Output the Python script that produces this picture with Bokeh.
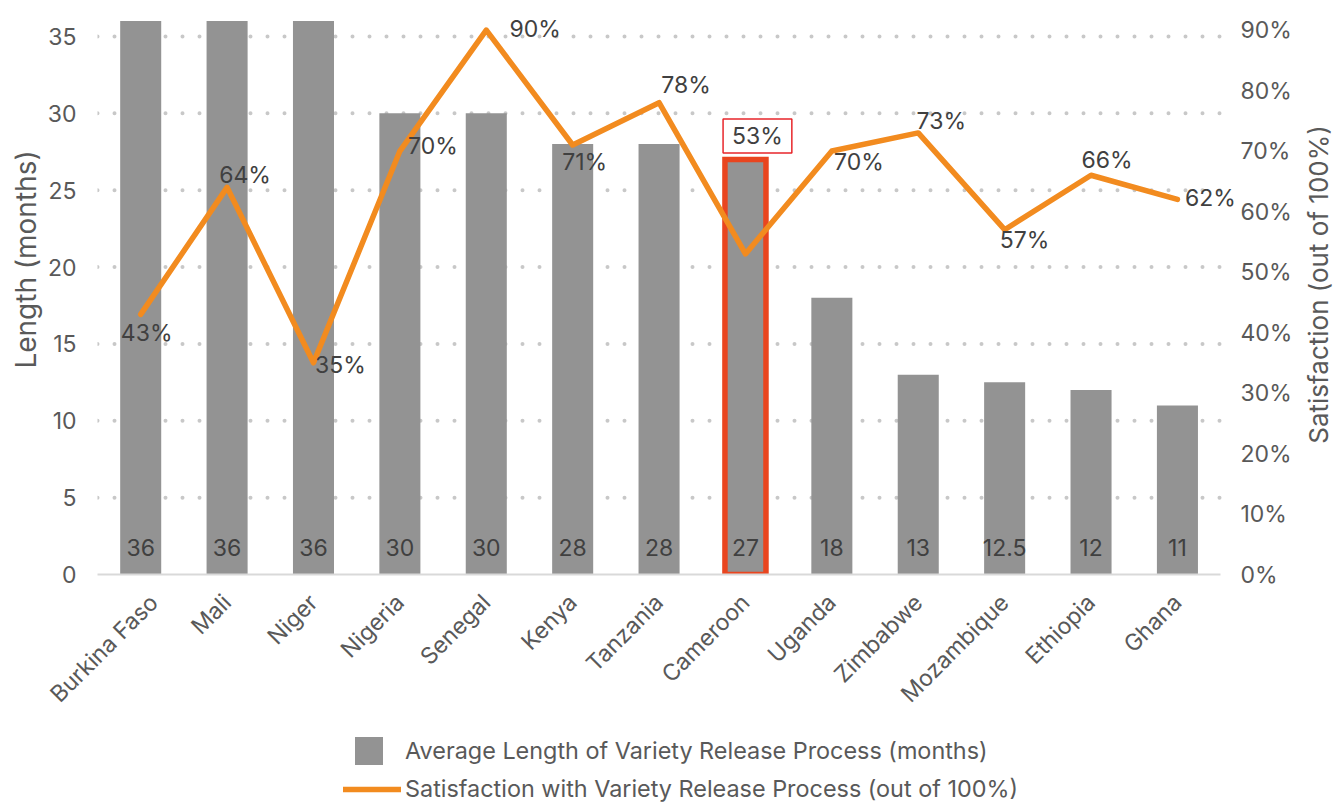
import math
from bokeh.plotting import figure
from bokeh.layouts import gridplot
from bokeh.models import (ColumnDataSource, Range1d, LinearAxis, FixedTicker,
                          NumeralTickFormatter, Legend, LegendItem, Label)
from bokeh.core.properties import value
from bokeh.embed import file_html
from bokeh.resources import INLINE

# ---------------- data ----------------
countries = ["Burkina Faso", "Mali", "Niger", "Nigeria", "Senegal", "Kenya", "Tanzania",
             "Cameroon", "Uganda", "Zimbabwe", "Mozambique", "Ethiopia", "Ghana"]
length_months = [36, 36, 36, 30, 30, 28, 28, 27, 18, 13, 12.5, 12, 11]
satisfaction = [0.43, 0.64, 0.35, 0.70, 0.90, 0.71, 0.78, 0.53, 0.70, 0.73, 0.57, 0.66, 0.62]
left_ticks = [0, 5, 10, 15, 20, 25, 30, 35]
right_ticks = [0.0, 0.1, 0.2, 0.3, 0.4, 0.5, 0.6, 0.7, 0.8, 0.9]
highlight = "Cameroon"

bar_name = "Average Length of Variety Release Process (months)"
line_name = "Satisfaction with Variety Release Process (out of 100%)"
left_title = "Length (months)"
right_title = "Satisfaction (out of 100%)"

# ---------------- styles ----------------
FONT = "Inter"
BAR = "#939393"
ORANGE = "#F28B1F"
HILITE = "#E9451F"
BOXRED = "#E8262B"
AXIS_TXT = "#595959"
LBL_TXT = "#404040"
GRID = "#C8C8C8"
# label offsets in pixels (dx, dy: positive = right / down)
sat_dx = [6, 18, 27, 33, 49, 12, 27, 12, 27, 23, 20, 16, 33]
sat_dy = [19, -12, 2, -5, -1, 17, -18, -118, 11, -12, 10, -15, -1]

# layout geometry (pixels)
W_LT, W_RT = 44, 38
W_MAIN = 1335 - W_LT - W_RT
H_MAIN, H_LEG = 720, 83
B_LEFT, B_RIGHT, B_TOP, B_BOTTOM = 52, 57, 17, 145
RIGHT_GUTTER = 0.23          # extra room (in category widths) right of the last bar

n = len(countries)
xpos = list(range(n))
x_lo, x_hi = -0.5, n - 0.5   # outer edges of the category slots

p = figure(x_range=Range1d(x_lo, x_hi + RIGHT_GUTTER),
           y_range=Range1d(0, 36.23),
           width=W_MAIN, height=H_MAIN,
           output_backend="svg", toolbar_location=None,
           min_border_left=B_LEFT, min_border_right=B_RIGHT,
           min_border_top=B_TOP, min_border_bottom=B_BOTTOM,
           outline_line_color=None, background_fill_color="white")
p.extra_y_ranges = {"pct": Range1d(0, 0.9208)}
p.grid.visible = False

# left axis
yl = p.yaxis[0]
yl.ticker = FixedTicker(ticks=left_ticks)
yl.axis_line_color = None
yl.major_tick_line_color = None
yl.minor_tick_line_color = None
yl.major_tick_out = 0
yl.major_label_standoff = 21
yl.major_label_text_font = FONT
yl.major_label_text_font_size = "23px"
yl.major_label_text_color = AXIS_TXT

# right axis
yr = LinearAxis(y_range_name="pct", ticker=FixedTicker(ticks=right_ticks),
                formatter=NumeralTickFormatter(format="0%"))
yr.axis_line_color = None
yr.major_tick_line_color = None
yr.minor_tick_line_color = None
yr.major_tick_out = 0
yr.major_label_standoff = 0
yr.major_label_text_font = FONT
yr.major_label_text_font_size = "23px"
yr.major_label_text_color = AXIS_TXT
p.add_layout(yr, "right")

# x axis (categories at integer positions)
xa = p.xaxis[0]
xa.ticker = FixedTicker(ticks=xpos)
xa.major_label_overrides = {i: c for i, c in zip(xpos, countries)}
xa.bounds = (x_lo, x_hi)
xa.axis_line_color = "#D9D9D9"
xa.axis_line_width = 2
xa.major_tick_line_color = None
xa.minor_tick_line_color = None
xa.major_tick_out = 0
xa.major_label_orientation = math.pi / 4
xa.major_label_standoff = 24
xa.major_label_text_font = FONT
xa.major_label_text_font_size = "23px"
xa.major_label_text_color = AXIS_TXT

# dotted horizontal gridlines across the category area only
grid_ticks = [t for t in left_ticks if t > 0]
p.segment(x0=x_lo, x1=x_hi, y0="y", y1="y", source=ColumnDataSource(dict(y=grid_ticks)),
          line_color=GRID, line_width=4, line_dash="0 17", line_cap="round")

# ---------------- data sources ----------------
is_hi = [c == highlight for c in countries]
src = ColumnDataSource(dict(
    x=xpos,
    country=countries,
    length=length_months,
    sat=satisfaction,
    zero=[0] * n,
    blabel=[f"{v:g}" for v in length_months],
    edge_alpha=[1.0 if h else 0.0 for h in is_hi],
    edge_width=[5.5 if h else 0.0 for h in is_hi],
))

bars = p.vbar(x="x", top="length", width=0.475, source=src,
              fill_color=BAR, line_color=HILITE, line_alpha="edge_alpha",
              line_width="edge_width", line_join="miter")

p.text(x="x", y="zero", text="blabel", source=src,
       text_align="center", text_baseline="middle", y_offset=-27,
       text_font=value(FONT), text_font_size="23px", text_color=LBL_TXT)

line = p.line(x="x", y="sat", source=src, y_range_name="pct",
              line_color=ORANGE, line_width=5.5, line_join="round", line_cap="round")

idx_n = [i for i, h in enumerate(is_hi) if not h]
idx_h = [i for i, h in enumerate(is_hi) if h]


def sat_src(idx):
    return ColumnDataSource(dict(
        x=[xpos[i] for i in idx],
        sat=[satisfaction[i] for i in idx],
        txt=[f"{round(satisfaction[i] * 100)}%" for i in idx],
        dx=[sat_dx[i] for i in idx],
        dy=[sat_dy[i] for i in idx],
    ))


p.text(x="x", y="sat", text="txt", source=sat_src(idx_n), y_range_name="pct",
       x_offset="dx", y_offset="dy", text_align="center", text_baseline="middle",
       text_font=value(FONT), text_font_size="23px", text_color=LBL_TXT)
p.text(x="x", y="sat", text="txt", source=sat_src(idx_h), y_range_name="pct",
       x_offset="dx", y_offset="dy", text_align="center", text_baseline="middle",
       text_font=value(FONT), text_font_size="23px", text_color=LBL_TXT,
       border_line_color=BOXRED, border_line_width=1.5,
       padding=dict(left=9, right=9, top=3, bottom=3))


# ---------------- side strips holding the axis titles ----------------
def strip(width):
    f = figure(width=width, height=H_MAIN, x_range=Range1d(0, 1), y_range=Range1d(0, 1),
               x_axis_type=None, y_axis_type=None,
               min_border_left=0, min_border_right=0,
               min_border_top=B_TOP, min_border_bottom=B_BOTTOM,
               output_backend="svg", toolbar_location=None,
               outline_line_color=None, background_fill_color="white")
    f.grid.visible = False
    return f


lt = strip(W_LT)
lt.add_layout(Label(x=25, y=315, x_units="screen", y_units="screen", text=left_title,
                    angle=math.pi / 2, text_align="center", text_baseline="middle",
                    text_font=FONT, text_font_size="28px", text_color=AXIS_TXT))
rt = strip(W_RT)
rt.add_layout(Label(x=21, y=290, x_units="screen", y_units="screen", text=right_title,
                    angle=math.pi / 2, text_align="center", text_baseline="middle",
                    text_font=FONT, text_font_size="26px", text_color=AXIS_TXT))

# ---------------- legend strip below the chart ----------------
q = figure(width=W_MAIN, height=H_LEG,
           x_range=Range1d(x_lo, x_hi + RIGHT_GUTTER), y_range=Range1d(1000, 1001),
           x_axis_type=None, y_axis_type=None,
           min_border_left=B_LEFT, min_border_right=B_RIGHT,
           min_border_top=0, min_border_bottom=0,
           output_backend="svg", toolbar_location=None,
           outline_line_color=None, background_fill_color="white")
q.grid.visible = False
# legend proxies share the data but lie far outside this strip's visible range
bar_proxy = q.vbar(x="x", top="length", width=0.475, source=src,
                   fill_color=BAR, line_color=None)
line_proxy = q.line(x="x", y="sat", source=src,
                    line_color=ORANGE, line_width=5.5, line_cap="round")

leg_common = dict(padding=0, margin=0, border_line_color=None, background_fill_alpha=0,
                  label_text_font=FONT, label_text_font_size="23.4px",
                  label_text_color=AXIS_TXT, spacing=0)
leg1 = Legend(items=[LegendItem(label=bar_name, renderers=[bar_proxy])], location=(254, 35),
              glyph_width=35, glyph_height=35, label_height=35, label_standoff=19, **leg_common)
leg2 = Legend(items=[LegendItem(label=line_name, renderers=[line_proxy])], location=(246, 0),
              glyph_width=58, glyph_height=20, label_height=20, label_standoff=4, **leg_common)
q.add_layout(leg1)
q.add_layout(leg2)

grid = gridplot([[lt, p, rt], [None, q, None]], toolbar_location=None)
open("out.html", "w").write(file_html(grid, INLINE))
